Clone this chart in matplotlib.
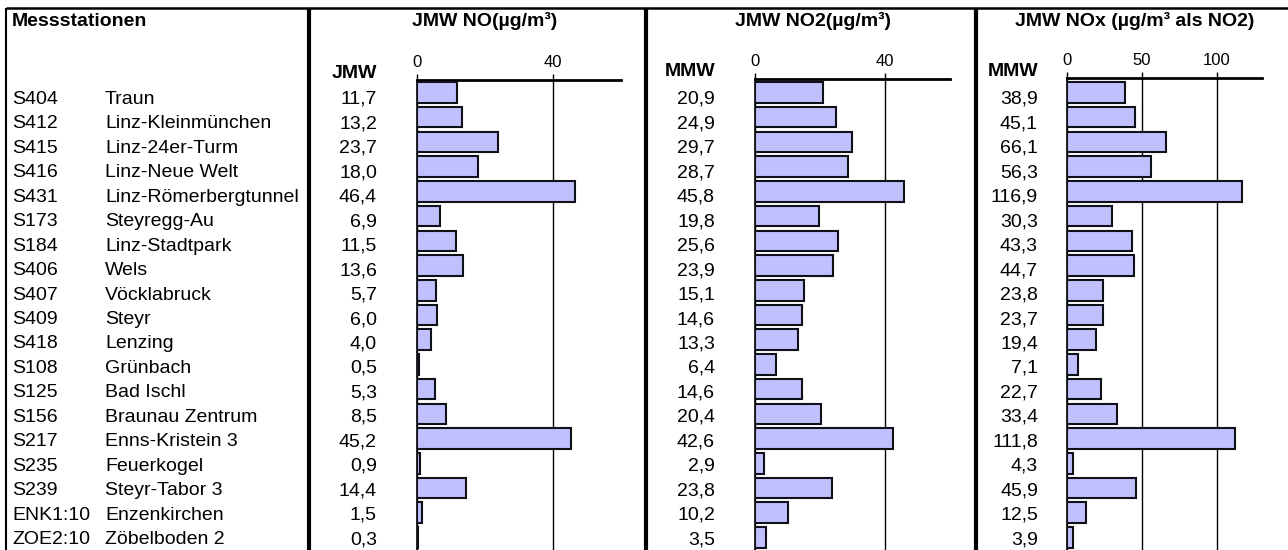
import matplotlib
matplotlib.use("Agg")
import matplotlib.pyplot as plt

plt.rcParams['font.family'] = ['Liberation Sans', 'DejaVu Sans']

codes = ["S404", "S412", "S415", "S416", "S431", "S173", "S184", "S406", "S407",
         "S409", "S418", "S108", "S125", "S156", "S217", "S235", "S239",
         "ENK1:10", "ZOE2:10"]
names = ["Traun", "Linz-Kleinmünchen", "Linz-24er-Turm", "Linz-Neue Welt",
         "Linz-Römerbergtunnel", "Steyregg-Au", "Linz-Stadtpark", "Wels",
         "Vöcklabruck", "Steyr", "Lenzing", "Grünbach", "Bad Ischl",
         "Braunau Zentrum", "Enns-Kristein 3", "Feuerkogel", "Steyr-Tabor 3",
         "Enzenkirchen", "Zöbelboden 2"]
no_vals = [11.7, 13.2, 23.7, 18.0, 46.4, 6.9, 11.5, 13.6, 5.7, 6.0, 4.0, 0.5,
           5.3, 8.5, 45.2, 0.9, 14.4, 1.5, 0.3]
no2_vals = [20.9, 24.9, 29.7, 28.7, 45.8, 19.8, 25.6, 23.9, 15.1, 14.6, 13.3,
            6.4, 14.6, 20.4, 42.6, 2.9, 23.8, 10.2, 3.5]
nox_vals = [38.9, 45.1, 66.1, 56.3, 116.9, 30.3, 43.3, 44.7, 23.8, 23.7, 19.4,
            7.1, 22.7, 33.4, 111.8, 4.3, 45.9, 12.5, 3.9]

header_station = "Messstationen"
panel_titles = ["JMW NO(µg/m³)", "JMW NO2(µg/m³)", "JMW NOx (µg/m³ als NO2)"]
col_heads = ["JMW", "MMW", "MMW"]
panel_ticks = [[0, 40], [0, 40], [0, 50, 100]]
panel_xmax = [60, 60, 130]
panel_data = [no_vals, no2_vals, nox_vals]

W, H = 1288, 550
fig = plt.figure(figsize=(W / 100, H / 100), dpi=100)

# background / text layer in pixel coordinates
bg = fig.add_axes([0, 0, 1, 1])
bg.set_xlim(0, W)
bg.set_ylim(H, 0)
bg.axis('off')

# borders and separators
bg.plot([6, W], [8, 8], color='black', lw=1.8, solid_capstyle='butt')
bg.plot([6, 6], [8, H], color='black', lw=1.5, solid_capstyle='butt')
for xs in [309, 646, 976]:
    bg.plot([xs, xs], [8, H], color='black', lw=3, solid_capstyle='butt')

fs = 14
# headers
bg.text(12, 26, header_station, fontsize=fs, fontweight='bold', ha='left', va='baseline')
title_x = [485, 813, 1135]
for tx, t in zip(title_x, panel_titles):
    bg.text(tx, 26, t, fontsize=fs, fontweight='bold', ha='center', va='baseline')

val_right = [377, 715, 1038]
head_base = [78, 76, 76]
for xr, hb, h in zip(val_right, head_base, col_heads):
    bg.text(xr, hb, h, fontsize=fs, fontweight='bold', ha='right', va='baseline')

# row text
base0, dstep = 104, 24.45
for i, (c, n) in enumerate(zip(codes, names)):
    yb = base0 + dstep * i
    bg.text(12, yb, c, fontsize=fs, ha='left', va='baseline')
    bg.text(105, yb, n, fontsize=fs, ha='left', va='baseline')
    for xr, vals in zip(val_right, panel_data):
        bg.text(xr, yb, f"{vals[i]:.1f}".replace('.', ','), fontsize=fs,
                ha='right', va='baseline')

# bar panels
x0s = [417, 755, 1067]
x1s = [621, 950, 1262]
tops = [80, 79, 78]
bar_c0, bar_step = 92.5, 24.72
for vals, x0, x1, top, ticks, xmax in zip(panel_data, x0s, x1s, tops, panel_ticks, panel_xmax):
    ax = fig.add_axes([x0 / W, 0, (x1 - x0) / W, (H - top) / H])
    ax.set_facecolor('none')
    ypos = list(range(len(vals)))
    ax.barh(ypos, vals, height=0.83, color='#C0C0FF', edgecolor='#101018',
            linewidth=1.5, zorder=3)
    ax.set_xlim(0, xmax)
    ax.set_ylim((H - bar_c0) / bar_step, (top - bar_c0) / bar_step)
    ax.xaxis.tick_top()
    ax.set_xticks(ticks)
    ax.set_xticklabels([str(t) for t in ticks])
    ax.tick_params(axis='x', direction='out', length=4, width=1, pad=3,
                   labelsize=12, colors='black')
    ax.set_yticks([])
    for s in ['bottom', 'right']:
        ax.spines[s].set_visible(False)
    ax.spines['top'].set_linewidth(2)
    ax.spines['left'].set_linewidth(1.2)
    ax.grid(axis='x', color='black', lw=1, zorder=1)

fig.savefig("out.png", dpi=100)
